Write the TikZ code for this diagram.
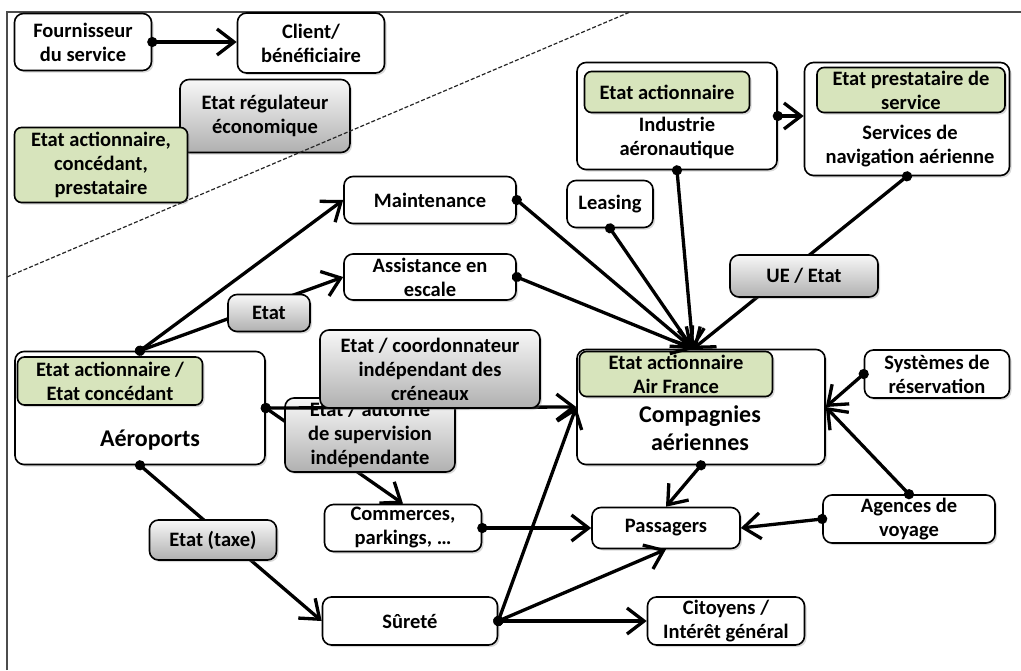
\documentclass[tikz,border=0pt]{standalone}
\usepackage{fontspec}
\setmainfont{Carlito}
\usepackage{tikz}
\usetikzlibrary{arrows.meta, shadows}
\definecolor{vertpale}{RGB}{215,228,188}

\begin{document}
\begin{tikzpicture}[x=1pt,y=-1pt,
  font=\fontsize{20.5}{24}\selectfont\bfseries,
  every node/.style={align=center},
  box/.style={draw, line width=1.6pt, rounded corners=9pt, fill=white, inner sep=0pt,
    drop shadow={shadow xshift=2pt, shadow yshift=-2pt, opacity=.3}},
  stake/.style={box, fill=vertpale, rounded corners=7pt},
  reg/.style={box, top color=gray!6, bottom color=gray!62},
  big/.style={font=\fontsize{24}{28}\selectfont\bfseries},
  link/.style={line width=3.3pt, shorten <=-5pt, {Circle[length=10pt]}-{Straight Barb[length=17pt,width=26pt]}}]
\useasboundingbox (0,0) rectangle (1021,670);
\draw[line width=1.4pt, gray!60!black] (7,670)--(7,12)--(1021,12);

\node[box, minimum width=137pt, minimum height=57pt] (F) at (83,42) {Fournisseur\\du service};
\node[box, minimum width=147pt, minimum height=60pt] (C) at (311,43) {Client/\\bénéficiaire};
\node[reg, minimum width=170pt, minimum height=73pt] (REG) at (265,116) {Etat régulateur\\économique};
\node[stake, minimum width=173pt, minimum height=75pt] (ACP) at (101,165) {Etat actionnaire,\\concédant,\\prestataire};
\draw[link] (F.east)--(F.east -| C.west);
\draw[line width=1.2pt, gray!30!black, dash pattern=on 4pt off 2pt] (7,277)--(630,12);

\node[box, minimum width=200pt, minimum height=107pt] (IND) at (677,116) {};
\node[stake, minimum width=165pt, minimum height=41pt] (INDs) at (667,92) {Etat actionnaire};
\node (INDt) at (677,138) {Industrie\\aéronautique};
\node[box, minimum width=205pt, minimum height=113pt] (SNA) at (907,119) {};
\node[stake, minimum width=188pt, minimum height=45pt] (SNAs) at (911,90) {Etat prestataire de\\service};
\node (SNAt) at (910,146) {Services de\\navigation aérienne};
\draw[link] (IND.east)--(IND.east -| SNA.west);

\node[box, minimum width=86pt, minimum height=47pt] (LEA) at (610,204) {Leasing};
\node[box, minimum width=172pt, minimum height=47pt] (MNT) at (430,200) {Maintenance};
\node[box, minimum width=172pt, minimum height=46pt] (ASS) at (430,277) {Assistance en\\escale};

\node[box, minimum width=250pt, minimum height=113pt] (AER) at (140,408) {};
\node[stake, minimum width=185pt, minimum height=48pt] (AERs) at (110,381) {Etat actionnaire /\\Etat concédant};
\node[big] (AERt) at (150,440) {Aéroports};

\node[box, minimum width=248pt, minimum height=115pt] (CIE) at (701,407) {};
\node[stake, minimum width=193pt, minimum height=45pt] (CIEs) at (676,374) {Etat actionnaire\\Air France};
\node[big] (CIEt) at (700,428) {Compagnies\\aériennes};

\node[box, minimum width=145pt, minimum height=48pt] (SYS) at (937,374) {Systèmes de\\réservation};
\node[box, minimum width=172pt, minimum height=48pt] (AGE) at (909,519) {Agences de\\voyage};
\node[box, minimum width=148pt, minimum height=41pt] (PAS) at (666,528) {Passagers};
\node[box, minimum width=157pt, minimum height=47pt] (COM) at (403,528) {Commerces,\\parkings, \dots};
\node[box, minimum width=175pt, minimum height=48pt] (SUR) at (410,621) {Sûreté};
\node[box, minimum width=157pt, minimum height=48pt] (CIT) at (726,621) {Citoyens /\\Intérêt général};

\coordinate (hub) at (693,349);
\draw[link] (AER.north)--(MNT.west);
\draw[link] (AER.north)--(ASS.west);
\draw[link] (AER.east)--(COM.north);
\draw[link] (AER.south)--(SUR.west);
\draw[link] (MNT.east)--(hub);
\draw[link] (ASS.east)--(hub);
\draw[link] (LEA.south)--(hub);
\draw[link] (IND.south)--(hub);
\draw[link] (SNA.south)--(hub);
\draw[link] (SYS.west)--(CIE.east);
\draw[link] (AGE.north)--(CIE.east);
\draw[link] (AGE.west)--(PAS.east);
\draw[link] (CIE.south)--(PAS.north);
\draw[link] (COM.east)--(PAS.west);
\draw[link] (SUR.east)--(CIE.west);
\draw[link] (SUR.east)--(PAS.south);
\draw[link] (SUR.east)--(CIT.west);

\node[reg, minimum width=82pt, minimum height=37pt] (ET) at (269,313) {Etat};
\node[reg, minimum width=127pt, minimum height=40pt] (TAX) at (213,540) {Etat (taxe)};
\node[reg, minimum width=148pt, minimum height=42pt] (UE) at (804,276) {UE / Etat};
\node[reg, minimum width=170pt, minimum height=74pt] (SUP) at (370,435) {Etat / autorité\\de supervision\\indépendante};
\draw[link] (AER.east)--(CIE.west);
\node[reg, minimum width=220pt, minimum height=78pt] (COO) at (430,369) {Etat / coordonnateur\\indépendant des\\créneaux};
\end{tikzpicture}
\end{document}
